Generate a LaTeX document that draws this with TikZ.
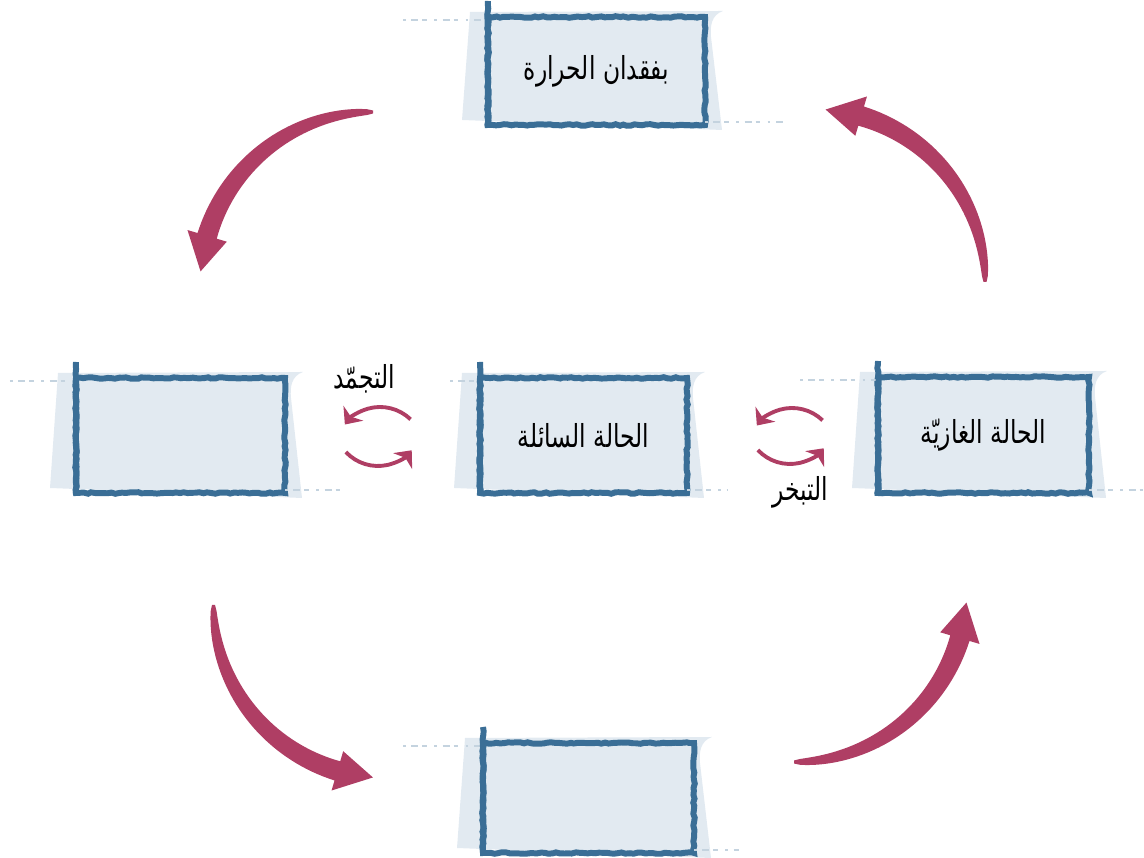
\documentclass[tikz,border=0pt]{standalone}
\usepackage{fontspec}
\newfontfamily\arabicfont[Script=Arabic,FakeStretch=0.74]{DejaVu Sans}
\TeXXeTstate=1
\usepackage{xcolor}
\usetikzlibrary{arrows.meta,positioning,calc,decorations.pathmorphing,backgrounds}

\definecolor{boxblue}{RGB}{58,110,150}
\definecolor{sheetblue}{RGB}{226,234,241}
\definecolor{turnred}{RGB}{175,62,100}

\tikzset{
  statebox/.style={draw=boxblue,line width=1.7pt,minimum width=2.10cm,
    minimum height=1.14cm,inner sep=0pt,outer sep=0pt,
    decorate,decoration={random steps,segment length=1.1pt,amplitude=0.22pt},
    font=\arabicfont\fontsize{9}{11}\selectfont},
  edgeline/.style={draw=boxblue,line width=1.7pt,
    decorate,decoration={random steps,segment length=1.1pt,amplitude=0.2pt}},
  speckle/.style={draw=boxblue!30,line width=0.6pt,
    dash pattern=on 0.8pt off 1.6pt on 2pt off 1.1pt on 1.2pt off 2.2pt},
  smallturn/.style={draw=turnred,line width=1.1pt,
    -{Stealth[length=4pt,width=7pt,inset=1.2pt]}},
  turnlabel/.style={font=\arabicfont\fontsize{9}{11}\selectfont,inner sep=0pt}
}

% ورقة خلف الإطار، مع الحافة اليسرى الممتدة والخطوط المنقّطة
\newcommand{\sheet}[3]{%
  \begin{scope}[on background layer]
    \fill[sheetblue] ($(#1.north west)+(-0.18,0.05)$)
      -- ($(#1.north east)+(0.18,0.06)$)
      .. controls ($(#1.north east)+(0.06,0.02)$) and ($(#1.north east)+(0.05,-0.10)$)
      .. ($(#1.north east)+(0.06,-0.20)$)
      -- ($(#1.south east)+(0.17,-0.05)$)
      -- ($(#1.south west)+(-0.26,0.05)$) -- cycle;
  \end{scope}
  \draw[speckle] ($(#1.north west)+(-#2,-0.03)$) -- ($(#1.north west)+(0,-0.03)$);
  \draw[speckle] ($(#1.south east)+(0,0.03)$) -- ($(#1.south east)+(#3,0.03)$);
  \draw[edgeline] ($(#1.north west)+(0,0.16)$) -- ($(#1.south west)+(0,-0.02)$);
}

% سهم منحنٍ عريض حول المركز #1 يبدأ من الزاوية #2
\newcommand{\bigturn}[2]{%
  \fill[turnred,shift={(#1)}]
    plot[domain=0:73.5,samples=40,variable=\t] ({#2+\t}:{1.73+0.015+0.085*sqrt(\t/73.5)})
    -- ({#2+73.5}:1.935) -- ({#2+85.5}:1.73) -- ({#2+73.5}:1.525)
    -- plot[domain=73.5:0,samples=40,variable=\t] ({#2+\t}:{1.73-0.015-0.085*sqrt(\t/73.5)})
    -- cycle;
}

\pgfmathsetseed{7}

\begin{document}
\begin{tikzpicture}[x=1cm,y=1cm]
  % دورة حالات المادة
  \useasboundingbox (0,0) rectangle (11.44,8.58);

  \node[statebox,minimum width=2.17cm,minimum height=1.08cm] (heat) at (5.965,7.87)
    {\beginR بفقدان الحرارة\endR};
  \node[statebox,minimum width=2.09cm,minimum height=1.15cm] (solid) at (1.805,4.225) {};
  \node[statebox,minimum width=2.07cm,minimum height=1.15cm] (liquid) at (5.835,4.225)
    {\beginR الحالة السائلة\endR};
  \node[statebox,minimum width=2.11cm,minimum height=1.16cm] (gas) at (9.835,4.23)
    {\beginR الحالة الغازيّة\endR};
  \node[statebox,minimum width=2.11cm,minimum height=1.10cm] (cool) at (5.885,0.60) {};

  \sheet{heat}{0.85}{0.78}
  \sheet{solid}{0.66}{0.55}
  \sheet{liquid}{0.30}{0.40}
  \sheet{gas}{0.78}{0.54}
  \sheet{cool}{0.80}{0.45}

  % الأسهم الكبيرة
  \coordinate (turnA) at (3.73,5.73);
  \coordinate (turnB) at (8.12,5.76);
  \coordinate (turnC) at (3.865,2.53);
  \coordinate (turnD) at (7.94,2.69);
  \bigturn{turnA}{90}
  \bigturn{turnB}{0}
  \bigturn{turnC}{180}
  \bigturn{turnD}{270}

  % التجمّد والتبخر
  \coordinate (frz) at (3.79,4.215);
  \coordinate (vap) at (7.91,4.22);
  \draw[smallturn] ($(frz)+(0.01,-0.145)+(46:0.44)$) arc[start angle=46,end angle=143,radius=0.44];
  \draw[smallturn] ($(frz)+(-0.01,0.145)+(223:0.44)$) arc[start angle=223,end angle=320,radius=0.44];
  \draw[smallturn] ($(vap)+(0.01,-0.16)+(46:0.44)$) arc[start angle=46,end angle=143,radius=0.44];
  \draw[smallturn] ($(vap)+(-0.01,0.16)+(223:0.44)$) arc[start angle=223,end angle=320,radius=0.44];
  \node[turnlabel] (frzlabel) at (3.64,4.79) {\beginR التجمّد\endR};
  \node[turnlabel] (vaplabel) at (8.00,3.66) {\beginR التبخر\endR};
\end{tikzpicture}
\end{document}
